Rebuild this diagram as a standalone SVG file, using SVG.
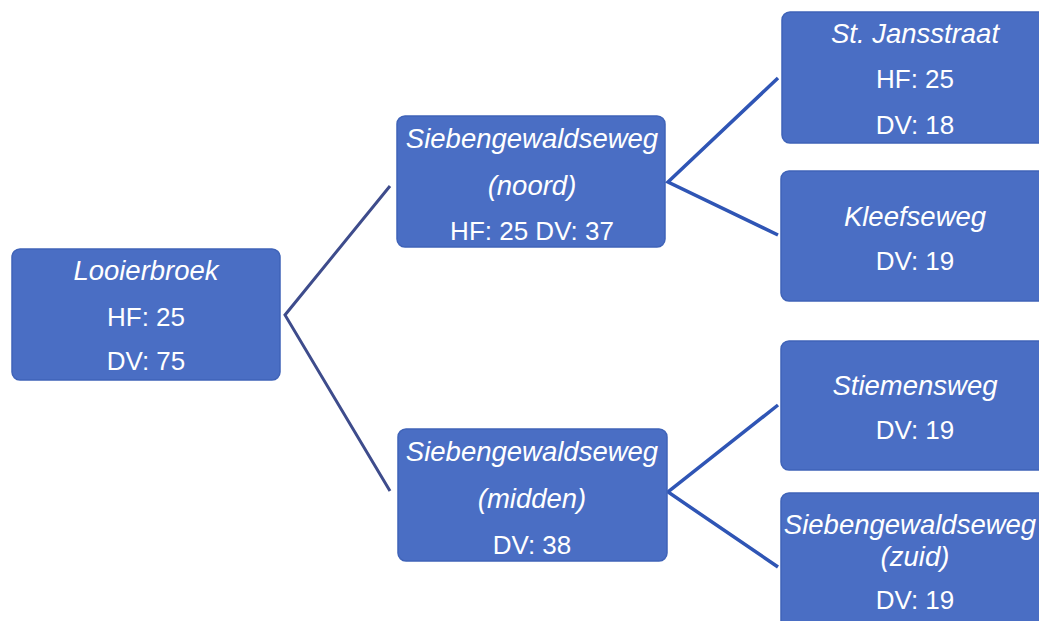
<svg xmlns="http://www.w3.org/2000/svg" width="1039" height="621" viewBox="0 0 1039 621">
<style>
.box{fill:#4A6EC4;stroke:#3F63B8;stroke-width:1.5}
.t{fill:#ffffff;font-family:"Liberation Sans","Open Sans",sans-serif;font-size:26px;text-anchor:middle;dominant-baseline:central}
.i{font-style:italic;font-size:27.5px}
.c1{stroke:#3E4C8C;stroke-width:3;fill:none}
.c2{stroke:#2F55B5;stroke-width:3.5;fill:none}
</style>
<rect width="1039" height="621" fill="#ffffff"/>
<g id="connectors">
<path class="c1" d="M390,186 L285,315 L390,491"/>
<path class="c2" d="M778,78 L668,182 L778,235"/>
<path class="c2" d="M778,405 L668,492 L778,567"/>
</g>
<g id="looierbroek">
<rect class="box" x="12" y="249" width="268" height="131" rx="8"/>
<text class="t i" x="146" y="270">Looierbroek</text>
<text class="t" x="146" y="317">HF: 25</text>
<text class="t" x="146" y="361">DV: 75</text>
</g>
<g id="noord">
<rect class="box" x="397" y="116" width="268" height="131" rx="8"/>
<text class="t i" x="532" y="138">Siebengewaldseweg</text>
<text class="t i" x="532" y="185">(noord)</text>
<text class="t" x="532" y="231">HF: 25 DV: 37</text>
</g>
<g id="midden">
<rect class="box" x="398" y="429" width="269" height="132" rx="8"/>
<text class="t i" x="532" y="451">Siebengewaldseweg</text>
<text class="t i" x="532" y="498">(midden)</text>
<text class="t" x="532" y="545">DV: 38</text>
</g>
<g id="jansstraat">
<rect class="box" x="782" y="12" width="270" height="131" rx="8"/>
<text class="t i" x="915" y="33">St. Jansstraat</text>
<text class="t" x="915" y="79">HF: 25</text>
<text class="t" x="915" y="125">DV: 18</text>
</g>
<g id="kleefseweg">
<rect class="box" x="781" y="171" width="270" height="130" rx="8"/>
<text class="t i" x="915" y="216">Kleefseweg</text>
<text class="t" x="915" y="261">DV: 19</text>
</g>
<g id="stiemensweg">
<rect class="box" x="781" y="341" width="270" height="129" rx="8"/>
<text class="t i" x="915" y="385">Stiemensweg</text>
<text class="t" x="915" y="430">DV: 19</text>
</g>
<g id="zuid">
<rect class="box" x="781" y="493" width="270" height="140" rx="8"/>
<text class="t i" x="910" y="524">Siebengewaldseweg</text>
<text class="t i" x="915" y="556">(zuid)</text>
<text class="t" x="915" y="600">DV: 19</text>
</g>
</svg>
